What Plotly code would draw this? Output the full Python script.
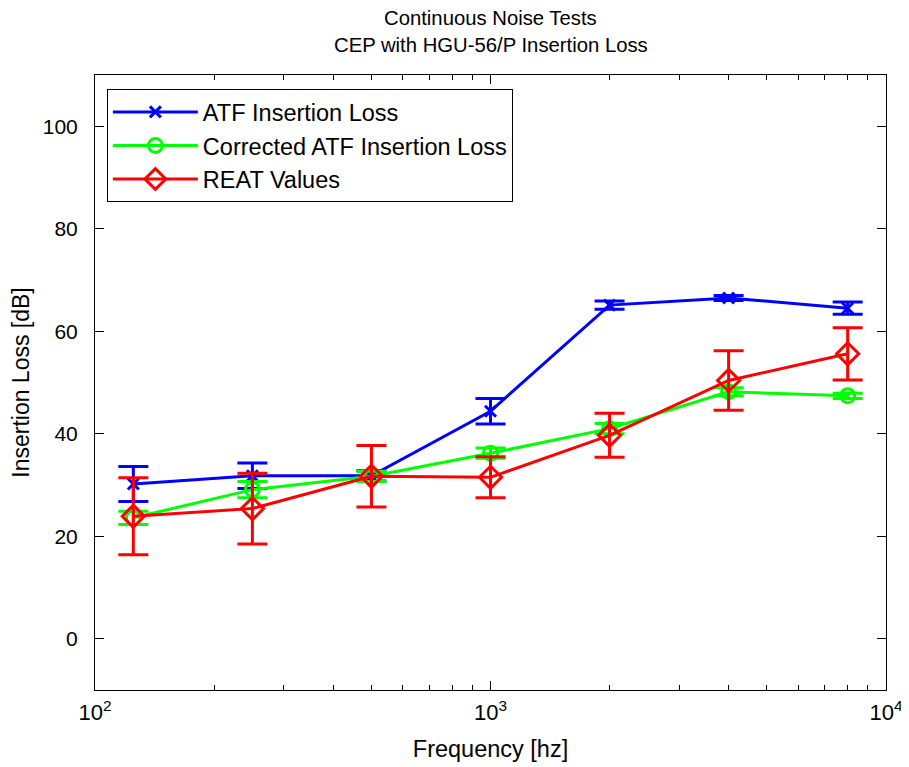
import plotly.graph_objects as go

freq = [125, 250, 500, 1000, 2000, 4000, 8000]
atf = [30.2, 31.8, 31.8, 44.4, 65.1, 66.5, 64.5]
atf_err = [3.4, 2.5, 1.0, 2.5, 0.8, 0.5, 1.2]
corr = [23.6, 29.1, 31.7, 36.2, 41.0, 48.2, 47.4]
corr_err = [1.3, 1.6, 1.0, 1.0, 1.0, 0.8, 0.5]
reat = [23.9, 25.4, 31.7, 31.5, 39.7, 50.4, 55.6]
reat_err = [7.5, 6.9, 6.0, 4.0, 4.3, 5.8, 5.1]

xtick_vals = [100, 1000, 10000]
xtick_text = ["10<sup>2</sup>", "10<sup>3</sup>", "10<sup>4</sup>"]
xminor = [200, 300, 400, 500, 600, 700, 800, 900,
          2000, 3000, 4000, 5000, 6000, 7000, 8000, 9000]
ytick_vals = [0, 20, 40, 60, 80, 100]

title_lines = ["Continuous Noise Tests", "CEP with HGU-56/P Insertion Loss"]

font = "Liberation Sans, Arial, sans-serif"

fig = go.Figure()

def add(name, y, err, color, symbol, size):
    fig.add_trace(go.Scatter(
        x=freq, y=y, name=name, mode="lines+markers",
        line=dict(color=color, width=3),
        marker=dict(symbol=symbol, size=size, color=color,
                    line=dict(color=color, width=3)),
        error_y=dict(type="data", array=err, visible=True,
                     color=color, thickness=3, width=15),
    ))

add("ATF Insertion Loss", atf, atf_err, "#0000FF", "x-thin-open", 11)
add("Corrected ATF Insertion Loss", corr, corr_err, "#00FF00", "circle-open", 14)
add("REAT Values", reat, reat_err, "#FF0000", "diamond-open", 17)

# page body has an 8px margin, so the figure is drawn at (8, 8)
W, H = 901, 759
L, R, T, B = 87, 23, 67, 77
ph = H - T - B

fig.update_layout(
    width=W, height=H,
    margin=dict(l=L, r=R, t=T, b=B, autoexpand=False),
    paper_bgcolor="white", plot_bgcolor="white",
    font=dict(family=font, size=21, color="black"),
    legend=dict(x=0.015, y=0.977, xanchor="left", yanchor="top",
                bordercolor="black", borderwidth=1, bgcolor="white",
                font=dict(size=23.5), itemwidth=85,
                tracegroupgap=0),
    showlegend=True,
)

for txt, ypx in zip(title_lines, [10, 37]):
    fig.add_annotation(text=txt, xref="paper", yref="paper",
                       x=0.5, y=(H - B - ypx) / ph,
                       xanchor="center", yanchor="middle",
                       showarrow=False, font=dict(size=20.3))

fig.update_xaxes(
    type="log", range=[2, 4], automargin=False,
    tickmode="array", tickvals=xtick_vals, ticktext=xtick_text,
    ticks="inside", ticklen=9, tickcolor="black",
    showline=True, linecolor="black", linewidth=1, mirror="ticks",
    showgrid=False, zeroline=False,
    minor=dict(tickmode="array", tickvals=xminor, ticks="inside",
               ticklen=5, tickcolor="black", showgrid=False),
    ticklabelstandoff=3, tickfont=dict(size=22),
    title=dict(text="Frequency [hz]", standoff=16, font=dict(size=23.5)),
)
fig.update_yaxes(
    range=[-10, 110], automargin=False,
    tickmode="array", tickvals=ytick_vals,
    ticks="inside", ticklen=9, tickcolor="black",
    showline=True, linecolor="black", linewidth=1, mirror="ticks",
    showgrid=False, zeroline=False,
    ticklabelstandoff=12,
    title=dict(text="Insertion Loss [dB]", standoff=11, font=dict(size=23)),
)

fig.write_html("out.html")
